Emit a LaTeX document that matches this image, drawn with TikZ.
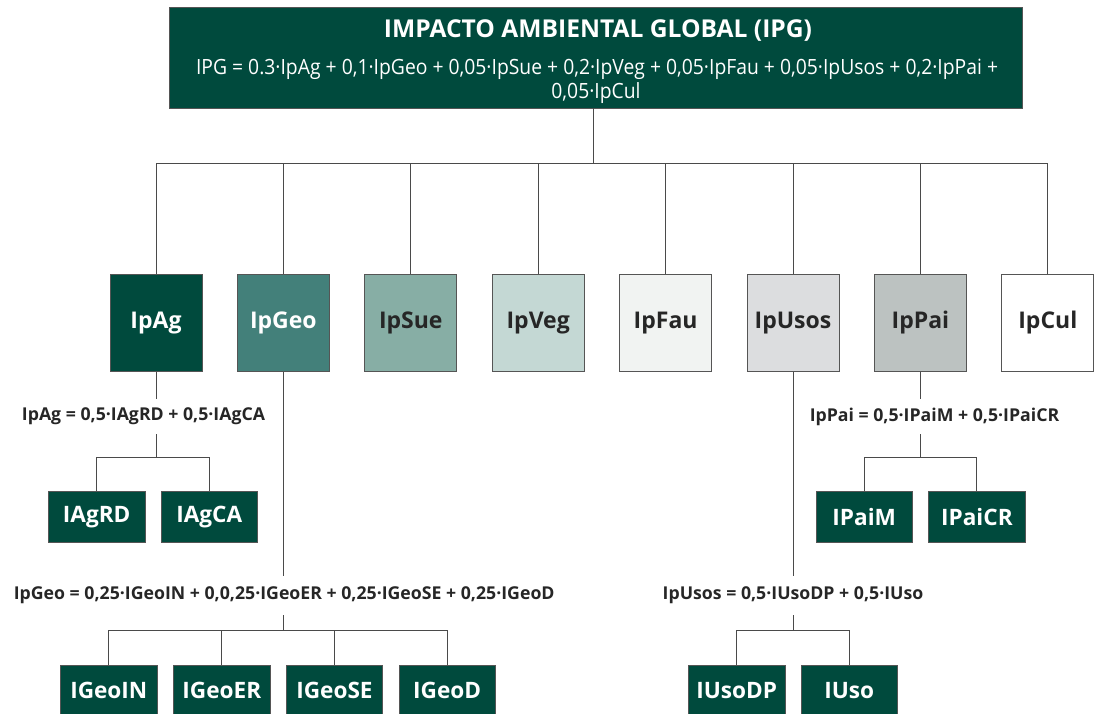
\documentclass[tikz,border=0pt]{standalone}
\usepackage{fontspec}
\setmainfont{Open Sans}
\newfontfamily\formfont{Open Sans}[FakeStretch=0.92]
\definecolor{dkgreen}{HTML}{004A3D}
\definecolor{geogreen}{HTML}{43807A}
\definecolor{suegreen}{HTML}{87AEA5}
\definecolor{veggreen}{HTML}{C4D8D4}
\definecolor{faugray}{HTML}{F1F3F2}
\definecolor{usosgray}{HTML}{DCDDDF}
\definecolor{paigray}{HTML}{BCC2C1}
\definecolor{boxedge}{HTML}{555555}
\definecolor{linegray}{HTML}{4A4A4A}
\definecolor{txtdark}{HTML}{262626}
\begin{document}
\begin{tikzpicture}[x=1pt,y=-1pt,
  conn/.style={draw=linegray,line width=0.9pt},
  lvtwo/.style={draw=boxedge,line width=0.9pt,minimum width=92pt,minimum height=97pt,
    inner sep=0pt,text=txtdark,font=\fontsize{23}{27}\selectfont\bfseries},
  leaf/.style={draw=boxedge,line width=0.9pt,fill=dkgreen,text=white,
    minimum width=96.5pt,minimum height=50.6pt,inner sep=0pt,
    font=\fontsize{22.6}{27}\selectfont\bfseries},
  eqlabel/.style={inner sep=0pt,text=txtdark,font=\fontsize{17.7}{21}\selectfont\bfseries},
]
\useasboundingbox (0,0) rectangle (1096,713);

% global index box
\node[draw=boxedge,line width=0.6pt,fill=dkgreen,minimum width=853pt,minimum height=101pt,inner sep=0pt]
  (ipg) at (595.5,57.5) {};
\node[anchor=base,inner sep=0pt,text=white,font=\fontsize{24.6}{30}\selectfont\bfseries]
  (ipgtitle) at (598,37) {IMPACTO AMBIENTAL GLOBAL (IPG)};
\node[anchor=base,inner sep=0pt,text=white,font=\formfont\fontsize{21}{25}\selectfont]
  (ipgeq1) at (597,74) {IPG = 0.3·IpAg + 0,1·IpGeo + 0,05·IpSue + 0,2·IpVeg + 0,05·IpFau + 0,05·IpUsos + 0,2·IpPai +};
\node[anchor=base,inner sep=0pt,text=white,font=\formfont\fontsize{21}{25}\selectfont]
  (ipgeq2) at (596,98) {0,05·IpCul};

% partial indices
\node[lvtwo,fill=dkgreen,text=white] (ipag)  at (156,322.8)    {IpAg};
\node[lvtwo,fill=geogreen,text=white] (ipgeo) at (283.4,322.8) {IpGeo};
\node[lvtwo,fill=suegreen] (ipsue)  at (410.8,322.8) {IpSue};
\node[lvtwo,fill=veggreen] (ipveg)  at (538.2,322.8) {IpVeg};
\node[lvtwo,fill=faugray]  (ipfau)  at (665.6,322.8) {IpFau};
\node[lvtwo,fill=usosgray] (ipusos) at (793,322.8)   {IpUsos};
\node[lvtwo,fill=paigray]  (ippai)  at (920.4,322.8) {IpPai};
\node[lvtwo,fill=white]    (ipcul)  at (1047.8,322.8) {IpCul};

% main bus
\coordinate (mainbus) at (593,163);
\draw[conn] (ipg.south -| mainbus) -- (mainbus);
\foreach \c in {ipag,ipgeo,ipsue,ipveg,ipfau,ipusos,ippai,ipcul}
  \draw[conn] (mainbus) -| (\c.north);

% IpAg breakdown
\node[eqlabel,minimum height=35pt] (ageq) at (143.5,416.7) {IpAg = 0,5·IAgRD + 0,5·IAgCA};
\coordinate (agfork) at (156,457.3);
\node[leaf] (iagrd) at (96.7,517) {IAgRD};
\node[leaf] (iagca) at (209.2,517) {IAgCA};
\draw[conn] (ipag.south) -- (ipag.south |- ageq.north);
\draw[conn] (ageq.south -| agfork) -- (agfork);
\draw[conn] (agfork) -| (iagrd.north);
\draw[conn] (agfork) -| (iagca.north);

% IpPai breakdown
\node[eqlabel,minimum height=35pt] (paieq) at (934.5,416.7) {IpPai = 0,5·IPaiM + 0,5·IPaiCR};
\coordinate (paifork) at (920.4,457.3);
\node[leaf] (ipaim)  at (864.2,517) {IPaiM};
\node[leaf] (ipaicr) at (976.9,517) {IPaiCR};
\draw[conn] (ippai.south) -- (ippai.south |- paieq.north);
\draw[conn] (paieq.south -| paifork) -- (paifork);
\draw[conn] (paifork) -| (ipaim.north);
\draw[conn] (paifork) -| (ipaicr.north);

% IpGeo breakdown
\node[eqlabel,minimum height=39pt] (geoeq) at (284.2,595.5) {IpGeo = 0,25·IGeoIN + 0,0,25·IGeoER + 0,25·IGeoSE + 0,25·IGeoD};
\coordinate (geofork) at (283.4,630);
\node[leaf] (igeoin) at (108.8,690.3) {IGeoIN};
\node[leaf] (igeoer) at (221.8,690.3) {IGeoER};
\node[leaf] (igeose) at (334.5,690.3) {IGeoSE};
\node[leaf] (igeod)  at (447.2,690.3) {IGeoD};
\draw[conn] (ipgeo.south) -- (ipgeo.south |- geoeq.north);
\draw[conn] (geoeq.south -| geofork) -- (geofork);
\foreach \c in {igeoin,igeoer,igeose,igeod}
  \draw[conn] (geofork) -| (\c.north);

% IpUsos breakdown
\node[eqlabel,minimum height=39pt] (usoseq) at (793,595.5) {IpUsos = 0,5·IUsoDP + 0,5·IUso};
\coordinate (usosfork) at (793,630);
\node[leaf] (iusodp) at (736.7,690.3) {IUsoDP};
\node[leaf] (iuso)   at (849.2,690.3) {IUso};
\draw[conn] (ipusos.south) -- (ipusos.south |- usoseq.north);
\draw[conn] (usoseq.south -| usosfork) -- (usosfork);
\draw[conn] (usosfork) -| (iusodp.north);
\draw[conn] (usosfork) -| (iuso.north);
\end{tikzpicture}
\end{document}
